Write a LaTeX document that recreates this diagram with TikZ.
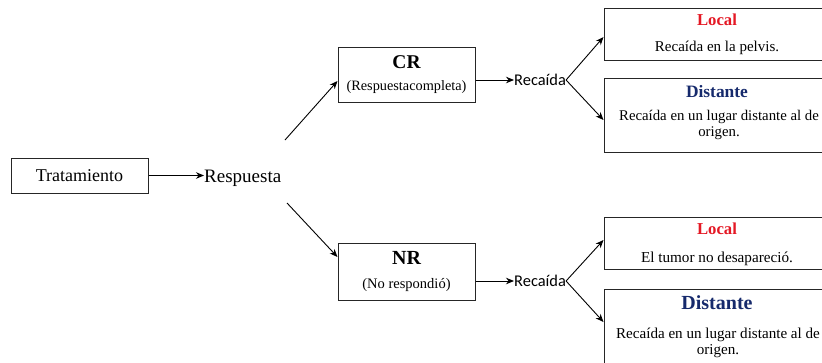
\documentclass[tikz,border=0pt]{standalone}
\usepackage{fontspec}
\setmainfont{Liberation Serif}
\newfontfamily\calibri{Carlito}
\usetikzlibrary{arrows.meta}
\definecolor{localred}{RGB}{228,24,36}
\definecolor{distblue}{RGB}{22,42,108}

\begin{document}
\begin{tikzpicture}[x=1pt,y=-1pt,
    box/.style={draw=black!85, line width=1pt, inner sep=0pt},
    arr/.style={-{Stealth[length=8pt,width=6.5pt]}, line width=0.9pt},
    txt/.style={inner sep=0pt, align=center}]
    \useasboundingbox (0,0) rectangle (822,362);
    \clip (0,0) rectangle (822,362);
    \node[box, minimum width=137pt, minimum height=35pt] (T) at (79.5,175.5)
        {\fontsize{18}{20}\selectfont Tratamiento};
    \node[txt, anchor=west] (R) at (204,178) {\fontsize{19}{21}\selectfont Respuesta};
    \draw[arr] (T.east) -- (T.east -| R.west);
    \node[box, minimum width=137pt, minimum height=55pt] (CR) at (406.5,74.5) {};
    \node[txt] (CR1) at (406.5,62) {\fontsize{19.5}{21}\selectfont\bfseries CR};
    \node[txt] (CR2) at (406.5,87) {\fontsize{14.3}{16}\selectfont (Respuestacompleta)};
    \node[box, minimum width=137pt, minimum height=57pt] (NR) at (406.5,271.5) {};
    \node[txt] (NR1) at (406.5,258) {\fontsize{20}{22}\selectfont\bfseries NR};
    \node[txt] (NR2) at (406.5,285) {\fontsize{14.5}{16}\selectfont (No respondió)};
    \coordinate (R1) at (285,140);
    \coordinate (R2) at (287,203);
    \draw[arr] (R1) -- ([yshift=-6.5pt]CR.west);
    \draw[arr] (R2) -- ([yshift=14.5pt]NR.west);
    \node[txt, anchor=west] (RC1) at (514,80) {\calibri\fontsize{16.4}{18}\selectfont Recaída};
    \node[txt, anchor=west] (RC2) at (514,281) {\calibri\fontsize{16.4}{18}\selectfont Recaída};
    \draw[arr] (CR.east |- RC1.west) -- (RC1.west);
    \draw[arr] (NR.east |- RC2.west) -- (RC2.west);
    \node[box, minimum width=226pt, minimum height=52pt] (L1) at (717,34) {};
    \node[txt] (L1a) at (717,20) {\fontsize{16.7}{18}\selectfont\bfseries\color{localred} Local};
    \node[txt] (L1b) at (717,48) {\fontsize{15}{16}\selectfont Recaída en la pelvis.};
    \node[box, minimum width=226pt, minimum height=74pt] (D1) at (717,115) {};
    \node[txt] (D1a) at (717,92) {\fontsize{17.4}{19}\selectfont\bfseries\color{distblue} Distante};
    \node[txt, font=\fontsize{14.8}{15.5}\selectfont] (D1b) at (719,125)
        {Recaída en un lugar distante al de\\origen.};
    \node[box, minimum width=226pt, minimum height=52pt] (L2) at (717,243) {};
    \node[txt] (L2a) at (717,229) {\fontsize{16.7}{18}\selectfont\bfseries\color{localred} Local};
    \node[txt] (L2b) at (717,259) {\fontsize{15.2}{16}\selectfont El tumor no desapareció.};
    \node[box, minimum width=226pt, minimum height=80pt] (D2) at (717,329) {};
    \node[txt] (D2a) at (717,303) {\fontsize{20}{22}\selectfont\bfseries\color{distblue} Distante};
    \node[txt, font=\fontsize{15.1}{16}\selectfont] (D2b) at (718,342.5)
        {Recaída en un lugar distante al de\\origen.};
    \draw[arr] (RC1.east) -- ([yshift=-3pt]L1.west);
    \draw[arr] (RC1.east) -- ([yshift=-5pt]D1.west);
    \draw[arr] (RC2.east) -- ([yshift=3pt]L2.west);
    \draw[arr] (RC2.east) -- ([yshift=7pt]D2.west);
\end{tikzpicture}
\end{document}
